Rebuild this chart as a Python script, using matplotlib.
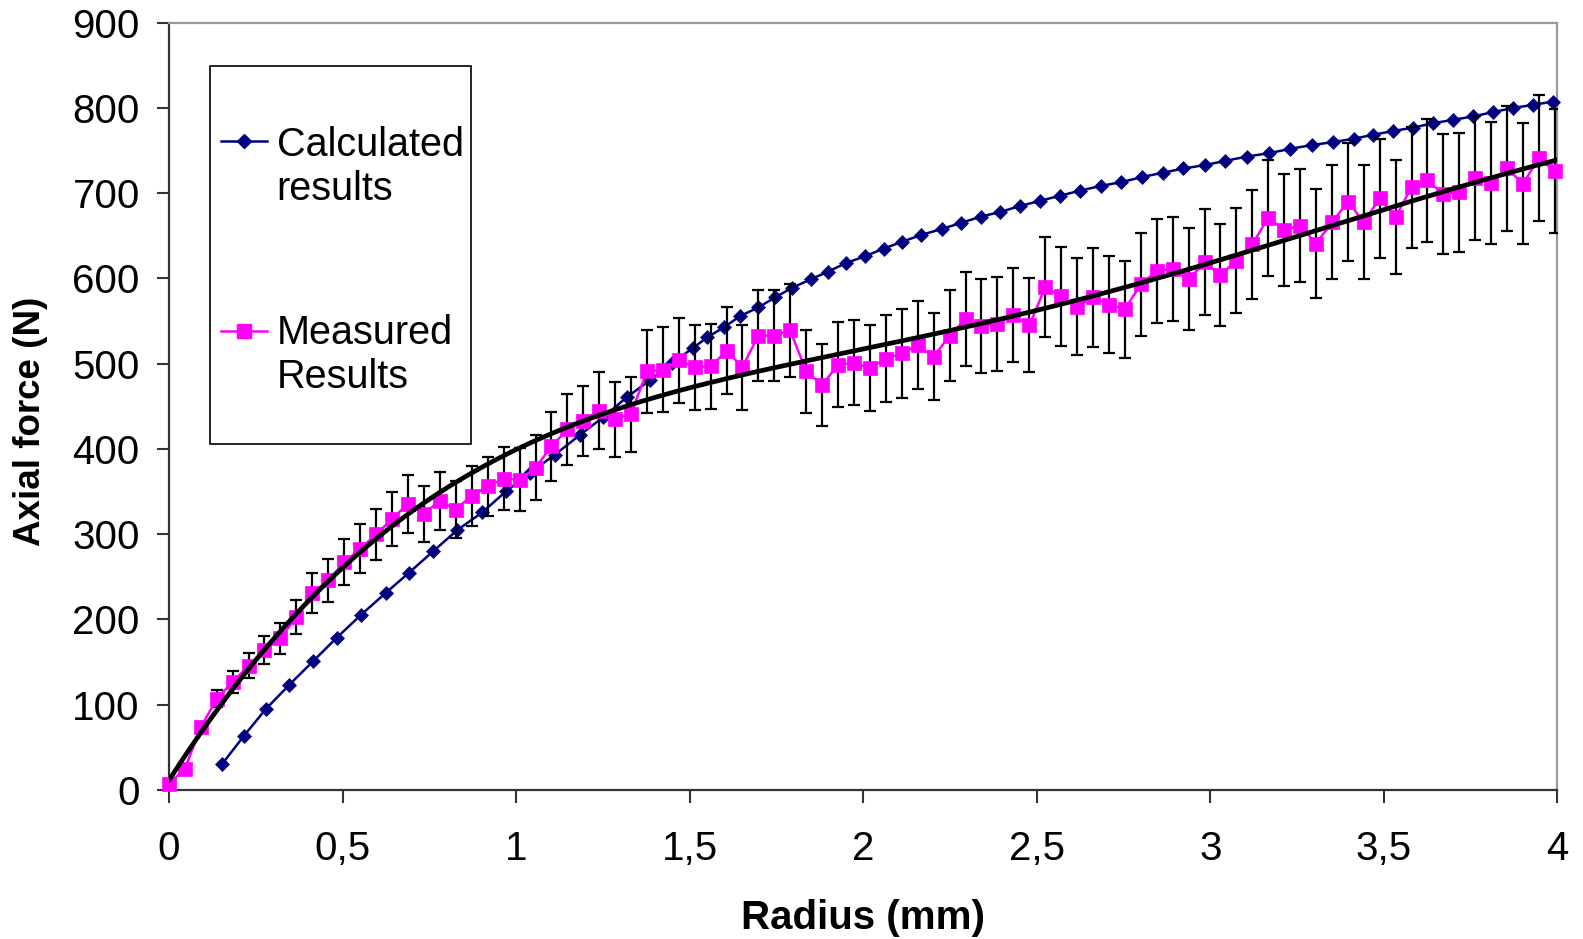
import numpy as np
import matplotlib
matplotlib.use("Agg")
import matplotlib.pyplot as plt
from matplotlib.patches import Rectangle

plt.rcParams['font.family'] = ['Liberation Sans', 'DejaVu Sans']

# ---------------- data ----------------
calc_x = [0.154, 0.216, 0.279, 0.347, 0.415, 0.483, 0.552, 0.624, 0.692, 0.761,
          0.831, 0.902, 0.972, 1.040, 1.111, 1.184, 1.250, 1.320, 1.387, 1.450,
          1.510, 1.551, 1.600, 1.646, 1.698, 1.747, 1.795, 1.849, 1.899, 1.950,
          2.005, 2.059, 2.112, 2.167, 2.226, 2.281, 2.339, 2.395, 2.452, 2.509,
          2.567, 2.625, 2.685, 2.744, 2.804, 2.863, 2.923, 2.985, 3.044, 3.106,
          3.170, 3.230, 3.293, 3.355, 3.415, 3.470, 3.528, 3.585, 3.641, 3.699,
          3.756, 3.814, 3.872, 3.929, 3.987]
calc_y = [31, 63.5, 95, 123.5, 151, 178.5, 205, 231, 255, 280,
          305, 325.5, 350.6, 372, 393, 416.5, 437, 461, 481, 501,
          518.5, 531, 543, 556, 566, 578, 589, 599, 608, 618,
          626, 635, 643, 651, 658, 665, 672.5, 678, 685, 691,
          697, 703, 708.6, 713, 719, 724, 729, 733, 738, 743,
          747, 752, 756.5, 760, 764, 768.6, 773, 777, 782, 786,
          790, 795, 800, 803.5, 807.5]

meas_x = [0.000, 0.046, 0.092, 0.138, 0.184, 0.230, 0.275, 0.321, 0.367, 0.413,
          0.459, 0.505, 0.551, 0.597, 0.643, 0.689, 0.734, 0.780, 0.826, 0.872,
          0.918, 0.964, 1.010, 1.056, 1.102, 1.148, 1.193, 1.239, 1.285, 1.331,
          1.377, 1.423, 1.469, 1.515, 1.561, 1.607, 1.652, 1.698, 1.744, 1.790,
          1.836, 1.882, 1.928, 1.974, 2.020, 2.066, 2.111, 2.157, 2.203, 2.249,
          2.295, 2.341, 2.387, 2.433, 2.479, 2.525, 2.570, 2.616, 2.662, 2.708,
          2.754, 2.800, 2.846, 2.892, 2.938, 2.984, 3.029, 3.075, 3.121, 3.167,
          3.213, 3.259, 3.305, 3.351, 3.397, 3.443, 3.488, 3.534, 3.580, 3.626,
          3.672, 3.718, 3.764, 3.810, 3.856, 3.901, 3.947, 3.993, 4.039]
meas_y = [7, 25, 74, 107, 127, 146, 164, 178, 203, 231,
          246, 267, 283, 300, 318, 336, 324, 339, 329, 345,
          356, 365, 364, 378, 403, 423, 433, 445, 435, 441,
          491, 493, 504, 496, 497, 515, 496, 533, 533, 539,
          491, 475, 499, 501, 495, 506, 512, 522, 508, 533,
          552, 544, 547, 557, 545, 590, 579, 567, 578, 569,
          564, 593, 609, 611, 599, 619, 604, 621, 640, 671,
          657, 662, 641, 666, 690, 666, 694, 672, 707, 715,
          699, 701, 718, 712, 729, 711, 741, 726, 748]
meas_err = [0, 3, 6, 10, 13, 15, 16.5, 18, 20, 23,
            25, 27, 28.5, 30, 32, 34, 33, 34, 34, 35,
            35, 37, 37, 38, 40, 42, 41, 45, 44, 44,
            49, 50, 50, 50, 50, 51, 50, 53, 53, 55,
            49, 48, 50, 50, 50, 51, 52, 52, 51, 53,
            55, 55, 55, 55, 55, 59, 58, 57, 58, 57,
            57, 60, 61, 61, 60, 62, 60, 62, 64, 68,
            66, 66, 64, 67, 69, 67, 70, 67, 71, 72,
            70, 70, 73, 72, 73, 71, 74, 73, 74]

trend_x = [0.0, 0.168, 0.456, 0.782, 1.07, 1.358, 1.646, 1.963, 2.395,
           2.769, 3.201, 3.546, 3.998]
trend_y = [9, 116, 238, 350, 416, 454, 486, 513, 554, 590, 644, 686, 739]

x_ticks = [0, 0.5, 1, 1.5, 2, 2.5, 3, 3.5, 4]
x_tick_labels = ["0", "0,5", "1", "1,5", "2", "2,5", "3", "3,5", "4"]
y_ticks = [0, 100, 200, 300, 400, 500, 600, 700, 800, 900]

label_calc = "Calculated\nresults"
label_meas = "Measured\nResults"
x_title = "Radius (mm)"
y_title = "Axial force (N)"

NAVY = "#000080"
MAGENTA = "#FF00FF"

# ---------------- figure ----------------
fig = plt.figure(figsize=(15.83, 9.39), dpi=100)
ax = fig.add_axes([0.10676, 0.15868, 0.877, 0.81715])

mx = np.array(meas_x)
my = np.array(meas_y)
me = np.array(meas_err)
inside = mx <= 4.0

# calculated
ax.plot(calc_x, calc_y, color=NAVY, lw=1.8, marker='D', markersize=7.3,
        markerfacecolor=NAVY, markeredgecolor=NAVY, markeredgewidth=0.5,
        zorder=3, clip_on=False)

# error bars
ax.errorbar(mx[inside], my[inside], yerr=me[inside], fmt='none', ecolor='black',
            elinewidth=1.6, capsize=4.3, capthick=1.6, zorder=4)

# measured line (clipped) + markers
ax.plot(mx, my, color=MAGENTA, lw=1.8, zorder=5)
ax.plot(mx[inside], my[inside], linestyle='none', marker='s', markersize=9.5,
        markerfacecolor=MAGENTA, markeredgecolor=MAGENTA, markeredgewidth=0.5,
        zorder=5, clip_on=False)

# polynomial trendline through the read trend points
coef = np.polyfit(trend_x, trend_y, 6)
tx = np.linspace(min(trend_x), max(trend_x), 400)
ax.plot(tx, np.polyval(coef, tx), color='black', lw=3.4, zorder=6)

ax.set_xlim(0, 4)
ax.set_ylim(0, 900)
ax.set_xticks(x_ticks)
ax.set_xticklabels(x_tick_labels)
ax.set_yticks(y_ticks)

ax.tick_params(axis='both', direction='out', length=9, width=1.5,
               color='#333333', labelsize=29)
ax.tick_params(axis='x', pad=20)
ax.tick_params(axis='y', pad=12)

for s in ['left', 'bottom']:
    ax.spines[s].set_color('#333333')
    ax.spines[s].set_linewidth(1.6)
for s in ['top', 'right']:
    ax.spines[s].set_color('#999999')
    ax.spines[s].set_linewidth(1.6)

ax.set_xlabel(x_title, fontsize=29, fontweight='bold', va='baseline')
ax.xaxis.set_label_coords(0.5, -0.1812)
ax.set_ylabel(y_title, fontsize=26.5, fontweight='bold', va='center')
ax.yaxis.set_label_coords(-0.0999, 0.481)

# ---------------- legend (manual) ----------------
box = Rectangle((0.02953, 0.45054), 0.18777, 0.49303, transform=ax.transAxes,
                facecolor='white', edgecolor='black', lw=1.2, zorder=10)
ax.add_patch(box)
for yc, col, mk, ms, lab, yb in [(0.8458, NAVY, 'D', 7.3, label_calc, 0.7689),
                                 (0.5982, MAGENTA, 's', 9.5, label_meas, 0.5235)]:
    ax.plot([0.03724, 0.0538, 0.07037], [yc, yc, yc], transform=ax.transAxes,
            color=col, lw=1.8, marker=mk, markersize=ms, markevery=[1],
            markerfacecolor=col, markeredgecolor=col, zorder=11, clip_on=False)
    ax.text(0.07758, yb, lab, transform=ax.transAxes, fontsize=28.5,
            ha='left', va='baseline', linespacing=1.2, zorder=11)

fig.savefig("out.png", dpi=100)
